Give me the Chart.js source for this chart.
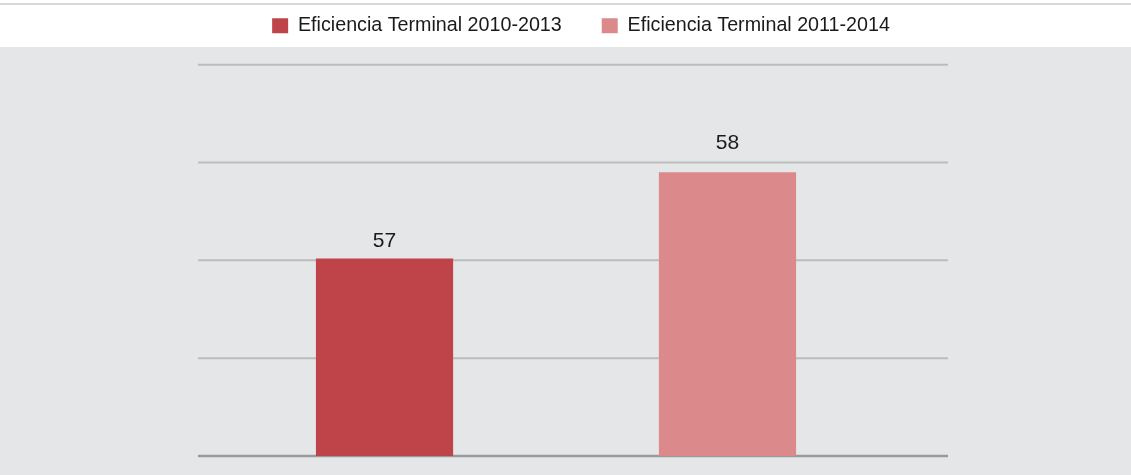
<!DOCTYPE html>
<html lang="es">
<head>
<meta charset="utf-8">
<title>Eficiencia Terminal</title>
<script src="https://cdn.jsdelivr.net/npm/chart.js@4"></script>
<style>
	html, body { margin: 0; padding: 0; background: #ffffff; }
	#wrap { position: relative; width: 1131px; height: 475px; overflow: hidden; }
	#top-rule { position: absolute; left: 0; top: 3px; width: 1131px; height: 2px; background: #d9d9d9; }
	#plot-bg { position: absolute; left: 0; top: 47px; width: 1131px; height: 428px; background: #e5e6e8; }
	#chart { position: absolute; left: 0; top: 0; }
</style>
</head>
<body>
<div id="wrap">
	<div id="top-rule"></div>
	<div id="plot-bg"></div>
	<canvas id="chart" width="1131" height="475"></canvas>
</div>
<script>
// Series
const seriesLabels = ["Eficiencia Terminal 2010-2013", "Eficiencia Terminal 2011-2014"];
const seriesValues = [57.02, 57.9];
const seriesColors = ["#be444a", "#dc898b"];
const categories = [""];

// Value axis (no tick labels shown, only gridlines)
const axisMin = 55;
const axisMax = 59;
const axisStep = 1;

const FONT = "'Liberation Sans', Arial, sans-serif";

/**
 * Draws horizontal gridlines behind the bars, running a bit past the plot area
 */
const gridPlugin = {
	id: "gridLines",
	beforeDatasetsDraw(chart, args, opts) {
		const { ctx, chartArea, scales } = chart;
		const y = scales.y;
		ctx.save();
		for (let v = axisMin; v <= axisMax; v += axisStep) {
			const py = y.getPixelForValue(v);
			ctx.beginPath();
			ctx.lineWidth = v === axisMin ? 2.5 : 2;
			ctx.strokeStyle = v === axisMin ? "#9a9a9a" : "#bcbcbc";
			ctx.moveTo(chartArea.left, py);
			ctx.lineTo(chartArea.right + opts.overhang, py);
			ctx.stroke();
		}
		ctx.restore();
	},
};

/**
 * Writes the rounded value above each bar
 */
const valueLabels = {
	id: "valueLabels",
	afterDatasetsDraw(chart, args, opts) {
		const { ctx, scales } = chart;
		ctx.save();
		ctx.font = `${opts.size}px ${FONT}`;
		ctx.fillStyle = "#1a1a1a";
		ctx.textAlign = "center";
		ctx.textBaseline = "alphabetic";
		chart.data.datasets.forEach((ds, i) => {
			chart.getDatasetMeta(i).data.forEach((bar, j) => {
				const shown = Math.round(ds.data[j]);
				ctx.fillText(String(shown), bar.x, scales.y.getPixelForValue(shown) - opts.gap);
			});
		});
		ctx.restore();
	},
};

/**
 * Adds room under the legend and nudges it sideways
 */
const legendTweak = {
	id: "legendTweak",
	beforeInit(chart, args, opts) {
		const fit = chart.legend.fit;
		chart.legend.fit = function () {
			fit.call(this);
			this.height += opts.extraHeight;
		};
	},
	afterLayout(chart, args, opts) {
		chart.legend.left += opts.shiftX;
		chart.legend.right += opts.shiftX;
	},
};

new Chart(document.getElementById("chart").getContext("2d"), {
	type: "bar",
	data: {
		labels: categories,
		datasets: seriesLabels.map((label, i) => ({
			label,
			data: [seriesValues[i]],
			backgroundColor: seriesColors[i],
			borderWidth: 0,
			categoryPercentage: 0.958,
			barPercentage: 0.4,
		})),
	},
	options: {
		responsive: false,
		animation: false,
		layout: { padding: { top: -24, left: 198, right: 217, bottom: 19 } },
		scales: {
			x: { display: false },
			y: { display: false, min: axisMin, max: axisMax },
		},
		plugins: {
			legend: {
				position: "top",
				labels: {
					boxWidth: 16,
					boxHeight: 15,
					padding: 40,
					color: "#1a1a1a",
					font: { family: FONT, size: 19.7 },
				},
			},
			tooltip: { enabled: false },
			gridLines: { overhang: 34 },
			valueLabels: { size: 21, gap: 13.5 },
			legendTweak: { extraHeight: 19, shiftX: 25 },
		},
	},
	plugins: [gridPlugin, valueLabels, legendTweak],
});
</script>
</body>
</html>
